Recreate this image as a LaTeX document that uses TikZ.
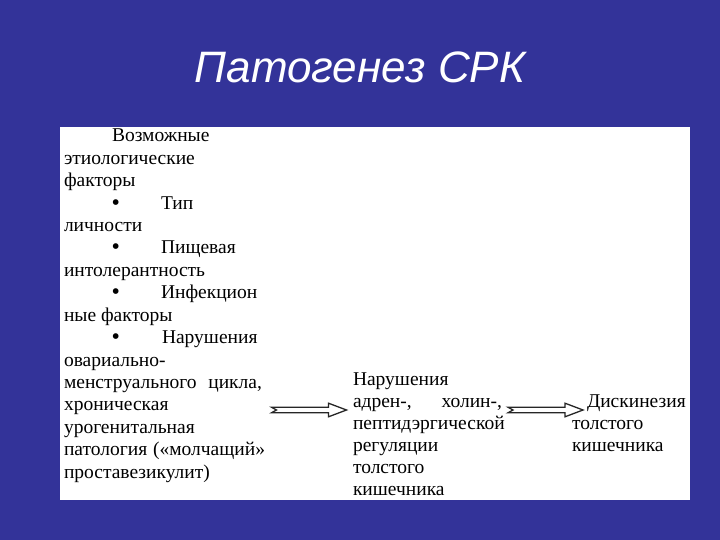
\documentclass[tikz,border=0pt]{standalone}
\usepackage{fontspec}
\setmainfont{Liberation Serif}
\newfontfamily\titlefont{Liberation Sans}
\usetikzlibrary{calc}
\definecolor{slidebg}{RGB}{51,51,153}
\tikzset{
  txt/.style={anchor=base west, inner sep=0pt, outer sep=0pt, text=black, font=\fontsize{19.5}{22}\selectfont},
  bul/.style={txt, font=\bfseries\fontsize{21}{22}\selectfont},
  fatarrow/.style={draw=black!85, line width=1.3pt, fill=white, line join=miter},
}
\newcommand{\fatarr}[2]{%
  \path[fatarrow] ($(#1)+(0,-2.8)$) -- ($(#2)+(-18,-2.8)$) -- ($(#2)+(-18,-6.8)$) -- (#2)
    -- ($(#2)+(-18,6.8)$) -- ($(#2)+(-18,2.8)$) -- ($(#1)+(0,2.8)$) -- ($(#1)+(5,0)$) -- cycle;}
\begin{document}
\begin{tikzpicture}[x=1pt,y=-1pt]
\fill[slidebg] (0,0) rectangle (720,540);
\useasboundingbox (0,0) rectangle (720,540);
\node[anchor=base, inner sep=0pt, text=white, font=\titlefont\itshape\fontsize{44}{50}\selectfont] (title) at (360,83) {Патогенез СРК};
\fill[white] (60,127) rectangle (690,500);
% left column
\node[txt] (l1) at (112,142) {Возможные};
\node[txt] (l2) at (64,164.4) {этиологические};
\node[txt] (l3) at (64,186.8) {факторы};
\node[bul] (b1) at (112,209.2) {•};
\node[txt] (l4) at (161,209.2) {Тип};
\node[txt] (l5) at (64,231.6) {личности};
\node[bul] (b2) at (112,254) {•};
\node[txt] (l6) at (161,254) {Пищевая};
\node[txt] (l7) at (64,276.4) {интолерантность};
\node[bul] (b3) at (112,298.8) {•};
\node[txt] (l8) at (161,298.8) {Инфекцион};
\node[txt] (l9) at (64,321.2) {ные факторы};
\node[bul] (b4) at (112,343.6) {•};
\node[txt] (l10) at (162,343.6) {Нарушения};
\node[txt] (l11) at (64,366) {овариально-};
\node[txt] (l12) at (64,388.4) {\makebox[198pt][s]{менструального цикла,}};
\node[txt] (l13) at (64,410.8) {хроническая};
\node[txt] (l14) at (64,433.2) {урогенитальная};
\node[txt] (l15) at (64,455.6) {\makebox[201pt][s]{патология («молчащий»}};
\node[txt] (l16) at (64,478) {проставезикулит)};
% middle column
\node[txt] (m1) at (353,385) {Нарушения};
\node[txt] (m2) at (353,407) {\makebox[149pt][s]{адрен-, холин-,}};
\node[txt] (m3) at (353,429) {пептидэргической};
\node[txt] (m4) at (353,451) {регуляции};
\node[txt] (m5) at (353,473) {толстого};
\node[txt] (m6) at (353,495) {кишечника};
% right column
\node[txt] (r1) at (587,407) {Дискинезия};
\node[txt] (r2) at (572,429) {толстого};
\node[txt] (r3) at (572,451) {кишечника};
% arrows
\coordinate (a1s) at (271.5,410);
\coordinate (a1e) at (346.5,410);
\coordinate (a2s) at (508,410);
\coordinate (a2e) at (583,410);
\fatarr{a1s}{a1e}
\fatarr{a2s}{a2e}
\end{tikzpicture}
\end{document}
